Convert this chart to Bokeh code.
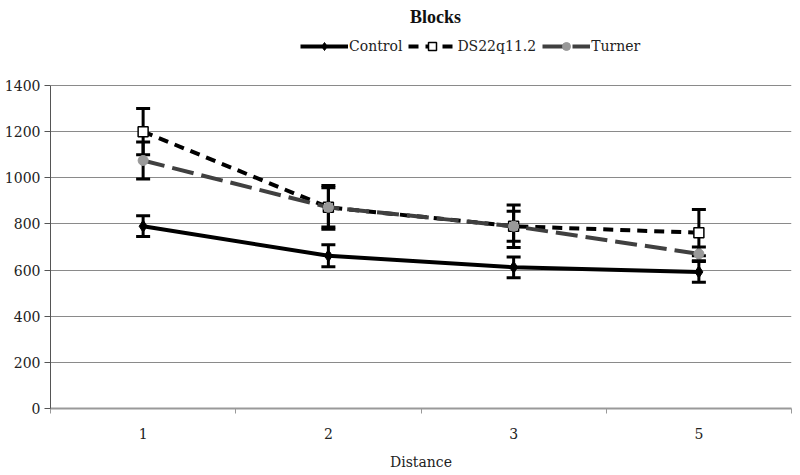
import numpy as np
from bokeh.plotting import figure
from bokeh.models import (ColumnDataSource, Whisker, TeeHead, Legend, LegendItem,
                          Label, FixedTicker, Range1d)
from bokeh.embed import file_html
from bokeh.resources import INLINE

categories = ["1", "2", "3", "5"]
control = [790, 662, 612, 592]
control_err = [45, 48, 45, 45]
ds22 = [1200, 872, 790, 762]
ds22_err = [100, 95, 92, 100]
turner = [1075, 872, 790, 670]
turner_err = [80, 85, 65, 30]
y_ticks = [0, 200, 400, 600, 800, 1000, 1200, 1400]

xpos = np.arange(len(categories)) + 0.5

SERIF = "DejaVu Serif"
SERIF_BOLD = "Liberation Serif"

H = 475
FRAME_TOP = 5
AXIS_TOP = 85
AXIS_BOTTOM = 408
ymax = y_ticks[-1] * (AXIS_BOTTOM - FRAME_TOP) / (AXIS_BOTTOM - AXIS_TOP)

p = figure(width=792, height=H, output_backend="svg", toolbar_location=None,
           x_range=Range1d(0, len(categories)), y_range=Range1d(0, ymax),
           min_border_left=50, min_border_right=1, min_border_top=FRAME_TOP,
           min_border_bottom=H - AXIS_BOTTOM)
p.outline_line_color = None
p.xgrid.grid_line_color = None
p.ygrid.ticker = FixedTicker(ticks=y_ticks)
p.ygrid.grid_line_color = "#8a8a8a"
p.ygrid.grid_line_width = 1

p.yaxis.ticker = FixedTicker(ticks=y_ticks)
p.yaxis.bounds = (y_ticks[0], y_ticks[-1])
p.yaxis.major_tick_out = 6
p.yaxis.major_tick_in = 0
p.yaxis.minor_tick_out = 0
p.yaxis.minor_tick_in = 0
p.yaxis.axis_line_color = "#555555"
p.yaxis.major_tick_line_color = "#555555"
p.yaxis.major_label_text_font = SERIF
p.yaxis.major_label_text_font_size = "14px"
p.yaxis.major_label_text_color = "#222222"
p.yaxis.major_label_standoff = 4

p.xaxis.ticker = FixedTicker(ticks=list(xpos), minor_ticks=list(range(len(categories) + 1)))
p.xaxis.major_label_overrides = {float(x): c for x, c in zip(xpos, categories)}
p.xaxis.major_tick_out = 0
p.xaxis.major_tick_in = 0
p.xaxis.minor_tick_out = 5
p.xaxis.minor_tick_in = 0
p.xaxis.minor_tick_line_color = "#999999"
p.xaxis.axis_line_color = "#999999"
p.xaxis.axis_line_width = 2
p.xaxis.major_label_text_font = SERIF
p.xaxis.major_label_text_font_size = "14px"
p.xaxis.major_label_text_color = "#222222"
p.xaxis.major_label_standoff = 14
p.xaxis.axis_label = "Distance"
p.xaxis.axis_label_text_font = SERIF
p.xaxis.axis_label_text_font_style = "normal"
p.xaxis.axis_label_text_font_size = "14px"
p.xaxis.axis_label_text_color = "#222222"
p.xaxis.axis_label_standoff = 12

src_c = ColumnDataSource(dict(x=xpos, y=control,
                              lo=np.array(control) - np.array(control_err),
                              hi=np.array(control) + np.array(control_err)))
src_d = ColumnDataSource(dict(x=xpos, y=ds22,
                              lo=np.array(ds22) - np.array(ds22_err),
                              hi=np.array(ds22) + np.array(ds22_err)))
src_t = ColumnDataSource(dict(x=xpos, y=turner,
                              lo=np.array(turner) - np.array(turner_err),
                              hi=np.array(turner) + np.array(turner_err)))

def whisker(src):
    w = Whisker(source=src, base="x", lower="lo", upper="hi",
                line_color="black", line_width=3,
                upper_head=TeeHead(size=14, line_width=3, line_color="black"),
                lower_head=TeeHead(size=14, line_width=3, line_color="black"))
    p.add_layout(w)

whisker(src_c)
lc = p.line("x", "y", source=src_c, line_color="black", line_width=4)
mc = p.scatter("x", "y", source=src_c, marker="diamond", size=12,
               fill_color="black", line_color="black")
whisker(src_d)
ld = p.line("x", "y", source=src_d, line_color="black", line_width=4, line_dash="10 7")
md = p.scatter("x", "y", source=src_d, marker="square", size=10,
               fill_color="white", line_color="black", line_width=1.5)
whisker(src_t)
lt = p.line("x", "y", source=src_t, line_color="#404040", line_width=4, line_dash="22 8")
mt = p.scatter("x", "y", source=src_t, marker="circle", size=10,
               fill_color="#999999", line_color="#999999")

legend = Legend(items=[LegendItem(label="Control", renderers=[lc, mc]),
                       LegendItem(label="DS22q11.2", renderers=[ld, md]),
                       LegendItem(label="Turner", renderers=[lt, mt])],
                orientation="horizontal", location=(250, AXIS_BOTTOM - 56),
                glyph_width=48, glyph_height=20, label_standoff=1, spacing=6,
                padding=0, margin=0, border_line_color=None, background_fill_alpha=0,
                label_text_font=SERIF, label_text_font_size="14px",
                label_text_color="#222222")
p.add_layout(legend, "center")

title = Label(x=385, y=AXIS_BOTTOM - 16, x_units="screen", y_units="screen", text="Blocks",
              text_font=SERIF_BOLD, text_font_size="18px", text_font_style="bold",
              text_align="center", text_baseline="middle", text_color="#111111")
p.add_layout(title)

open("out.html", "w").write(file_html(p, INLINE))
